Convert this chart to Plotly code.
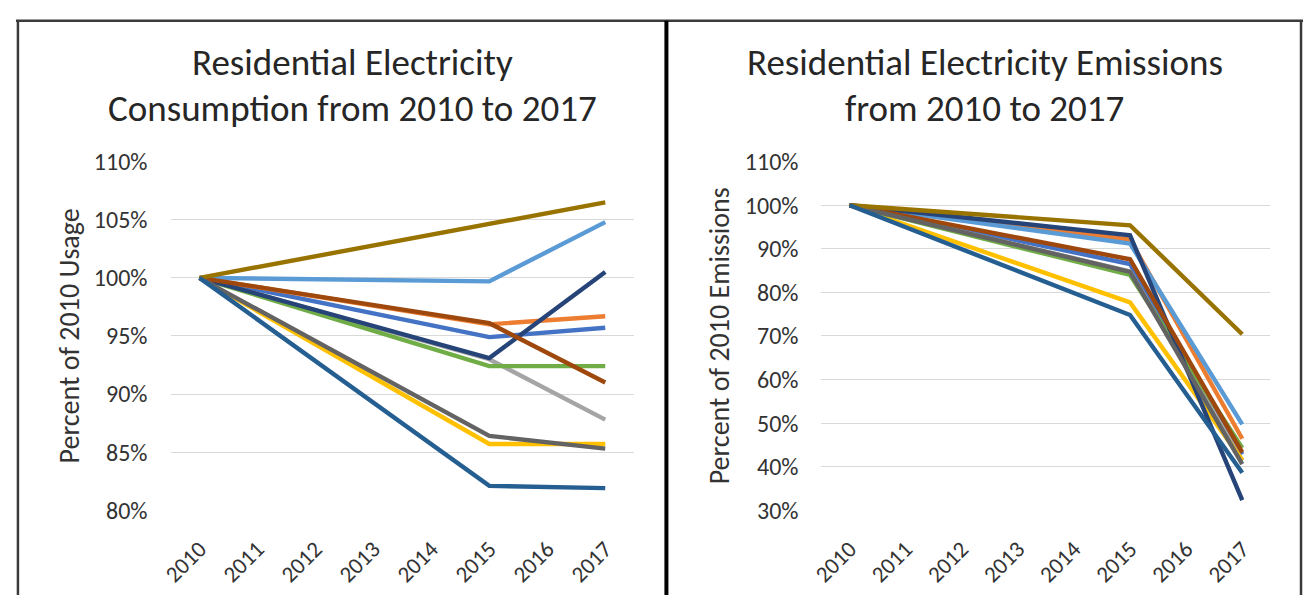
import plotly.graph_objects as go

W, H = 1303, 609

years = ["2010", "2011", "2012", "2013", "2014", "2015", "2016", "2017"]
data_years = ["2010", "2015", "2017"]
series_names = ["Series 1", "Series 2", "Series 3", "Series 4", "Series 5", "Series 6",
                "Series 7", "Series 8", "Series 9", "Series 10", "Series 11"]
series_colors = ["#4472C4", "#ED7D31", "#A5A5A5", "#FFC000", "#5B9BD5", "#70AD47",
                 "#264478", "#9E480E", "#636363", "#997300", "#255E91"]

# Consumption, percent of 2010 usage
usage_2010 = [100, 100, 100, 100, 100, 100, 100, 100, 100, 100, 100]
usage_2015 = [94.9, 96.0, 93.0, 85.7, 99.7, 92.4, 93.1, 96.1, 86.4, 104.6, 82.1]
usage_2017 = [95.7, 96.7, 87.8, 85.7, 104.8, 92.4, 100.5, 91.0, 85.3, 106.5, 81.9]

# Emissions, percent of 2010 emissions
emis_2010 = [100, 100, 100, 100, 100, 100, 100, 100, 100, 100, 100]
emis_2015 = [86.5, 92.1, 84.8, 77.7, 91.2, 84.0, 93.1, 87.6, 84.7, 95.4, 74.8]
emis_2017 = [42.8, 46.4, 41.4, 41.5, 49.7, 44.3, 32.3, 43.3, 40.6, 70.4, 38.6]

usage_ticks = [80, 85, 90, 95, 100, 105, 110]
emis_ticks = [30, 40, 50, 60, 70, 80, 90, 100, 110]

FONT = "Carlito, Lato, sans-serif"
TXT = "#333333"

fig = go.Figure()
for i, name in enumerate(series_names):
    fig.add_trace(go.Scatter(
        x=data_years, y=[usage_2010[i], usage_2015[i], usage_2017[i]],
        mode="lines", name=name, line=dict(color=series_colors[i], width=4.4),
        xaxis="x", yaxis="y", showlegend=False))
for i, name in enumerate(series_names):
    fig.add_trace(go.Scatter(
        x=data_years, y=[emis_2010[i], emis_2015[i], emis_2017[i]],
        mode="lines", name=name, line=dict(color=series_colors[i], width=4.4),
        xaxis="x2", yaxis="y2", showlegend=False))

def px_x(v):
    return v / W

def px_y(v):
    return 1 - v / H

y_dom = [px_y(520), px_y(154)]

xaxis_common = dict(type="category", categoryorder="array", categoryarray=years,
                    range=[-0.5, 7.5], showgrid=False, zeroline=False, showline=False,
                    tickangle=-45, ticks="", ticklabelstandoff=20,
                    tickfont=dict(family=FONT, size=23, color=TXT), fixedrange=True)
yaxis_common = dict(showgrid=True, gridcolor="#D9D9D9", gridwidth=1.3, zeroline=False,
                    showline=False, ticks="", ticklabelstandoff=22,
                    tickfont=dict(family=FONT, size=24, color=TXT), fixedrange=True)

fig.update_layout(
    width=W, height=H,
    margin=dict(l=0, r=0, t=0, b=0),
    paper_bgcolor="white", plot_bgcolor="white",
    xaxis=dict(domain=[px_x(160), px_x(628)], anchor="y", **xaxis_common),
    yaxis=dict(domain=y_dom, anchor="x", range=[80, 110], tickmode="array",
               tickvals=usage_ticks, ticktext=[f"{v}%" for v in usage_ticks], **yaxis_common),
    xaxis2=dict(domain=[px_x(817), px_x(1270)], anchor="y2", **xaxis_common),
    yaxis2=dict(domain=y_dom, anchor="x2", range=[30, 110], tickmode="array",
                tickvals=emis_ticks, ticktext=[f"{v}%" for v in emis_ticks], **yaxis_common),
)

annots = [
    ("Residential Electricity", 344, 50),
    ("Consumption from 2010 to 2017", 344, 98),
    ("Residential Electricity Emissions", 982, 50),
    ("from 2010 to 2017", 982, 98),
]
for text, x, y in annots:
    fig.add_annotation(text=text, x=px_x(x), y=px_y(y), xref="paper", yref="paper",
                       xanchor="center", yanchor="middle", showarrow=False,
                       font=dict(family=FONT, size=37, color="#262626"))

fig.add_annotation(text="Percent of 2010 Usage", x=px_x(58), y=px_y(337), xref="paper",
                   yref="paper", xanchor="center", yanchor="middle", textangle=-90,
                   showarrow=False, font=dict(family=FONT, size=28, color=TXT))
fig.add_annotation(text="Percent of 2010 Emissions", x=px_x(715), y=px_y(337), xref="paper",
                   yref="paper", xanchor="center", yanchor="middle", textangle=-90,
                   showarrow=False, font=dict(family=FONT, size=28, color=TXT))

# panel borders
fig.add_shape(type="line", xref="paper", yref="paper", x0=px_x(4), x1=px_x(1303),
              y0=px_y(6), y1=px_y(6), line=dict(color="#3A3A3A", width=2.5))
fig.add_shape(type="line", xref="paper", yref="paper", x0=px_x(6), x1=px_x(6),
              y0=px_y(6), y1=0, line=dict(color="#3A3A3A", width=2.5))
fig.add_shape(type="line", xref="paper", yref="paper", x0=px_x(660.5), x1=px_x(660.5),
              y0=px_y(6), y1=0, line=dict(color="#000000", width=4))
fig.add_shape(type="line", xref="paper", yref="paper", x0=px_x(1301), x1=px_x(1301),
              y0=px_y(6), y1=0, line=dict(color="#3A3A3A", width=2.5))

fig.write_html("out.html")
